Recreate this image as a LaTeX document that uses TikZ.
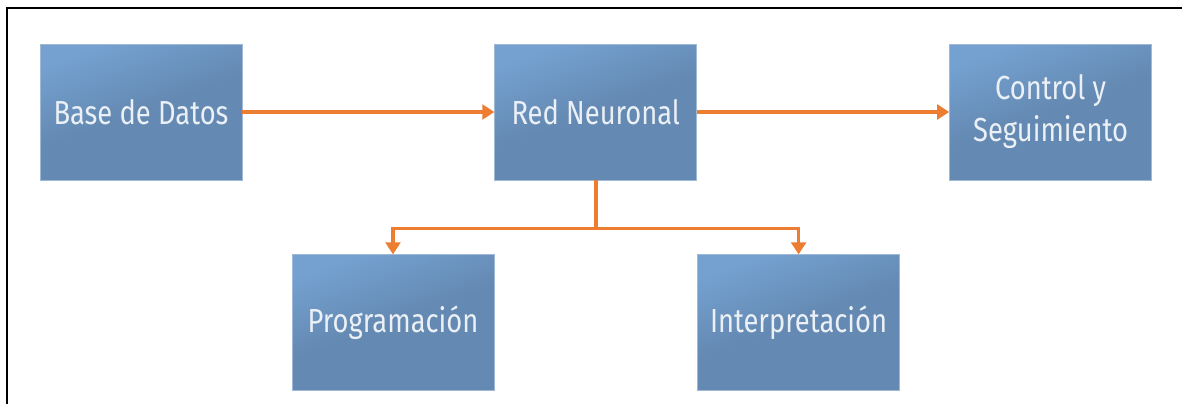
\documentclass[tikz,border=0pt]{standalone}
\usepackage{fontspec}
\setmainfont[FakeStretch=0.82]{Fira Sans}
\usetikzlibrary{arrows.meta,positioning}

\definecolor{boxtop}{RGB}{116,161,208}
\definecolor{boxbottom}{RGB}{100,137,178}
\definecolor{boxline}{RGB}{160,185,215}
\definecolor{boxtext}{RGB}{235,240,246}
\definecolor{flow}{RGB}{237,125,49}

\begin{document}
\begin{tikzpicture}[x=0.75pt,y=-0.75pt]
    \tikzstyle{blk} = [rectangle, draw=boxline, line width=0.6pt,
        top color=boxtop, bottom color=boxbottom, middle color=boxbottom, shading angle=20,
        minimum width=151.5pt, minimum height=102pt, inner sep=0pt,
        text=boxtext, align=center, font=\fontsize{25}{31.5}\selectfont]
    \tikzstyle{flw} = [draw=flow, line width=2.6pt, -{Triangle[length=9pt,width=11pt]}]
    \useasboundingbox (0,0) rectangle (1182,404);
    \draw[line width=1.5pt] (7,404) -- (7,8) -- (1182,8);

    \node[blk] (base) at (141,112) {Base de Datos};
    \node[blk, right=189pt of base] (red) {Red Neuronal};
    \node[blk, right=189pt of red] (ctrl) {Control y\\Seguimiento};
    \node[blk, below left=55.5pt and 0pt of red] (prog) {Programación};
    \node[blk, below right=55.5pt and 0pt of red] (interp) {Interpretación};

    \coordinate (split) at ([yshift=-36pt]red.south);
    \draw[flw] (base) -- (red);
    \draw[flw] (red) -- (ctrl);
    \draw[flw] (red.south) -- (split) -| (prog.north);
    \draw[flw] (red.south) -- (split) -| (interp.north);
\end{tikzpicture}
\end{document}
